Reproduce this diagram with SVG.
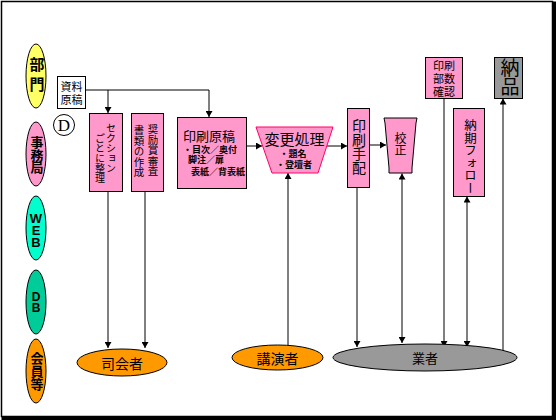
<svg xmlns="http://www.w3.org/2000/svg" width="556" height="420" viewBox="0 0 556 420">
<style>
text{font-family:"Liberation Sans","Noto Sans CJK JP",sans-serif;fill:#000}
.ln{stroke:#000;stroke-width:1}
.lt{font-size:13px;font-weight:bold;writing-mode:vertical-rl;text-orientation:upright}
.box{fill:#FF99CC;stroke:#000;stroke-width:1}
.v{writing-mode:vertical-rl}
.ca{stroke:#000;stroke-width:1;fill:none;marker-end:url(#a)}
.cb{stroke:#000;stroke-width:1;fill:none;marker-end:url(#a);marker-start:url(#a)}
.m{text-anchor:middle}
.sb{font-size:9px;font-weight:bold}
</style>
<defs>
<marker id="a" markerUnits="userSpaceOnUse" markerWidth="7" markerHeight="7" refX="6" refY="3.5" orient="auto-start-reverse"><path d="M0,0L6,3.5L0,7z" fill="#000"/></marker>
</defs>
<rect x="1.5" y="1.5" width="551" height="415" fill="#fff" stroke="#000" stroke-width="1.5"/>
<path d="M554.5,1.5V418.5H1.5" fill="none" stroke="#000" stroke-width="3"/>

<g id="lane-bumon"><ellipse class="ln" cx="36" cy="76" rx="10" ry="32" fill="#FFFF66"/><text class="lt" style="font-size:15px;letter-spacing:5px" x="36" y="57">部門</text></g>
<g id="lane-jimukyoku"><ellipse class="ln" cx="36" cy="154" rx="10" ry="32" fill="#FF99CC"/><text class="lt" style="letter-spacing:-0.5px" x="36" y="136">事務局</text></g>
<g id="lane-web"><ellipse class="ln" cx="36" cy="228" rx="10" ry="32" fill="#00FFCC"/><text class="lt" style="letter-spacing:-3px" x="36" y="211">WEB</text></g>
<g id="lane-db"><ellipse class="ln" cx="36" cy="302" rx="10" ry="32" fill="#00CC99"/><text class="lt" style="font-size:12px;letter-spacing:-3px" x="36" y="290">DB</text></g>
<g id="lane-kaiin"><ellipse class="ln" cx="36" cy="371" rx="10" ry="32" fill="#FF9900"/><text class="lt" x="36" y="352">会員等</text></g>

<g id="connectors">
<polyline class="ca" points="85,90 209,90 209,117"/>
<line class="ca" x1="108" y1="90" x2="108" y2="113"/>
<line class="ca" x1="108" y1="191.5" x2="108" y2="348"/>
<line class="ca" x1="145" y1="191.5" x2="145" y2="348"/>
<line class="ca" x1="246.5" y1="146" x2="262" y2="146"/>
<line class="ca" x1="327" y1="146" x2="347" y2="146"/>
<line class="ca" x1="369.5" y1="145" x2="386" y2="145"/>
<line class="ca" x1="288" y1="345" x2="288" y2="173"/>
<line class="ca" x1="357" y1="187.5" x2="357" y2="347"/>
<line class="cb" x1="402" y1="173.5" x2="402" y2="343"/>
<line class="ca" x1="444" y1="98.5" x2="444" y2="347"/>
<line class="cb" x1="467" y1="196.5" x2="467" y2="347"/>
<line class="ca" x1="503" y1="353" x2="503" y2="98.5"/>
</g>

<g id="shiryo"><rect x="57.5" y="76.5" width="28" height="32" fill="#fff" stroke="#000"/><text class="m" style="font-size:11px" x="71.5" y="91">資料<tspan x="71.5" y="104">原稿</tspan></text></g>
<g id="d-mark"><circle cx="64" cy="125" r="10.5" fill="#fff" stroke="#000"/><text class="m" style="font-family:'Liberation Serif',serif;font-size:17px" x="64" y="131">D</text></g>

<g id="section"><rect class="box" x="89.5" y="113.5" width="33" height="78"/><text class="v" style="font-size:10px" x="110" y="123">セクション</text><text class="v" style="font-size:10px" x="99" y="133">ごとに整理</text></g>
<g id="shorei"><rect class="box" x="131.5" y="113.5" width="32" height="78"/><text class="v" style="font-size:10.5px" x="152.5" y="124">奨励賞審査</text><text class="v" style="font-size:10.5px" x="138.5" y="125">書類の作成</text></g>
<g id="insatsu-genko"><rect class="box" x="177.5" y="117.5" width="69" height="71"/><text style="font-size:13px" x="183" y="141">印刷原稿</text><text class="sb" x="183" y="153">・目次／奥付<tspan x="188" y="163">脚注／扉</tspan><tspan x="191" y="175">表紙／背表紙</tspan></text></g>
<g id="henko"><polygon points="256,127 333,127 318,173 272,173" fill="#FF99CC" stroke="#FF0066"/><text class="m" style="font-size:15px" x="294.5" y="145">変更処理</text><text class="m sb" x="293" y="157">・題名<tspan x="294" y="168">・登壇者</tspan></text></g>
<g id="insatsu-tehai"><rect class="box" x="347.5" y="108.5" width="22" height="79"/><text class="v" style="font-size:14px" x="358" y="119">印刷手配</text></g>
<g id="kosei"><polygon points="384,118 417,118 416,123 412,168 412,173 389,173 389,168 385,123" fill="#FF99CC" stroke="#000"/><text class="v" style="font-size:12px" x="399" y="132">校正</text></g>
<g id="busu"><rect class="box" x="425.5" y="57.5" width="37" height="41"/><text class="m" style="font-size:11px" x="444" y="70">印刷<tspan x="444" y="83">部数</tspan><tspan x="444" y="96">確認</tspan></text></g>
<g id="noki"><rect class="box" x="453.5" y="108.5" width="31" height="88"/><text class="v" style="font-size:12.5px" x="469" y="119">納期フォロー</text></g>
<g id="nohin"><rect x="494.5" y="57.5" width="28" height="41" fill="#999999" stroke="#000"/><text class="v" style="font-size:19px" x="508" y="58">納品</text></g>

<g id="shikaisha"><ellipse cx="122" cy="362.5" rx="45" ry="13.5" fill="#FF9900" stroke="#000"/><text class="m" style="font-size:14px" x="122" y="368.5">司会者</text></g>
<g id="koensha"><ellipse cx="277.5" cy="357.5" rx="45.5" ry="12.5" fill="#FF9900" stroke="#000"/><text class="m" style="font-size:14px" x="277.5" y="363.5">講演者</text></g>
<g id="gyosha"><ellipse cx="425" cy="357.5" rx="92" ry="13.5" fill="#999999" stroke="#000"/><text class="m" style="font-size:13px" x="425" y="363">業者</text></g>
</svg>
